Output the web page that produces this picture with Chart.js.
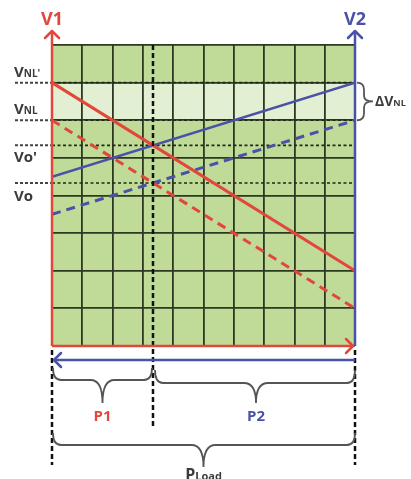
<!DOCTYPE html>
<html>
<head>
<meta charset="utf-8">
<script src="https://cdn.jsdelivr.net/npm/chart.js@4.4.1/dist/chart.umd.min.js"></script>
<style>
  html, body { margin: 0; padding: 0; background: #fff; }
  #wrap { width: 411px; height: 479px; position: relative; }
</style>
</head>
<body>
<div id="wrap"><canvas id="chart"></canvas></div>
<script>
// load share axis (0 = all on V1 side, 10 = full load)
const loadX = [0, 10];
// terminal voltages at the two ends of the load axis
const v1High = [7, 2];     // V1, raised no-load voltage VNL'
const v1Low = [6, 1];      // V1, nominal VNL
const v2High = [4.5, 7];   // V2, raised VNL'
const v2Low = [3.5, 6];    // V2, nominal VNL
// marked voltage levels
const levelNames = ["NL'", 'NL', "o'", 'o'];
const levelValues = [7, 6, 5.333, 4.333];
// load split point
const splitX = 3.333;

const RED = '#e2473b';
const BLUE = '#4a52a8';
const INK = '#3b3b3b';

const pts = ys => loadX.map((x, i) => ({ x: x, y: ys[i] }));

function arrowHead(ctx, x, y, dir, color) {
  ctx.save();
  ctx.strokeStyle = color;
  ctx.lineWidth = 2.5;
  ctx.lineCap = 'round';
  ctx.lineJoin = 'round';
  ctx.beginPath();
  const s = 7;
  if (dir === 'up') { ctx.moveTo(x - s, y + s); ctx.lineTo(x, y); ctx.lineTo(x + s, y + s); }
  if (dir === 'right') { ctx.moveTo(x - s, y - s); ctx.lineTo(x, y); ctx.lineTo(x - s, y + s); }
  if (dir === 'left') { ctx.moveTo(x + s, y - s); ctx.lineTo(x, y); ctx.lineTo(x + s, y + s); }
  ctx.stroke();
  ctx.restore();
}

function braceDown(ctx, x1, x2, yTop, yFlat, yTip, xMid) {
  const r = Math.min(yFlat - yTop, 8);
  ctx.beginPath();
  ctx.moveTo(x1, yTop);
  ctx.quadraticCurveTo(x1, yFlat, x1 + r, yFlat);
  ctx.lineTo(xMid - 12, yFlat);
  ctx.quadraticCurveTo(xMid, yFlat, xMid, yTip);
  ctx.quadraticCurveTo(xMid, yFlat, xMid + 12, yFlat);
  ctx.lineTo(x2 - r, yFlat);
  ctx.quadraticCurveTo(x2, yFlat, x2, yTop);
  ctx.stroke();
}

function subLabel(ctx, x, y, main, sub, color, bigSize, smallSize) {
  ctx.fillStyle = color;
  ctx.textBaseline = 'alphabetic';
  ctx.textAlign = 'left';
  ctx.font = 'bold ' + bigSize + 'px "Open Sans"';
  ctx.fillText(main, x, y);
  const w = ctx.measureText(main).width;
  ctx.font = 'bold ' + smallSize + 'px "Open Sans"';
  ctx.fillText(sub, x + w, y);
}

const decor = {
  id: 'decor',
  beforeDraw(chart) {
    const { ctx, chartArea: a, scales: { y } } = chart;
    ctx.save();
    ctx.fillStyle = '#c0da98';
    ctx.fillRect(a.left, a.top, a.right - a.left, a.bottom - a.top);
    const yA = y.getPixelForValue(levelValues[0]);
    const yB = y.getPixelForValue(levelValues[1]);
    ctx.fillStyle = '#e3efd2';
    ctx.fillRect(a.left, yA, a.right - a.left, yB - yA);
    ctx.restore();
  },
  beforeDatasetsDraw(chart) {
    const { ctx, chartArea: a, scales: { x, y } } = chart;
    ctx.save();
    ctx.strokeStyle = '#1e2a16';
    ctx.lineWidth = 1.6;
    ctx.setLineDash([3, 2.5]);
    levelValues.forEach(v => {
      const py = y.getPixelForValue(v);
      ctx.beginPath();
      ctx.moveTo(a.left, py);
      ctx.lineTo(a.right, py);
      ctx.stroke();
    });
    ctx.restore();
  },
  afterDatasetsDraw(chart) {
    const { ctx, chartArea: a, scales: { x, y } } = chart;
    const xs = x.getPixelForValue(splitX);
    ctx.save();

    // dashed guides outside the plot on the left
    ctx.strokeStyle = '#444';
    ctx.lineWidth = 2;
    ctx.setLineDash([3, 2]);
    levelValues.forEach(v => {
      const py = y.getPixelForValue(v);
      ctx.beginPath();
      ctx.moveTo(15, py);
      ctx.lineTo(a.left, py);
      ctx.stroke();
    });

    // vertical dashed lines
    ctx.strokeStyle = '#111';
    ctx.lineWidth = 2.5;
    ctx.setLineDash([5, 3]);
    ctx.beginPath();
    ctx.moveTo(xs, a.top); ctx.lineTo(xs, 426);
    ctx.moveTo(a.left, a.bottom + 4); ctx.lineTo(a.left, 465);
    ctx.moveTo(a.right, a.bottom + 4); ctx.lineTo(a.right, 465);
    ctx.stroke();
    ctx.setLineDash([]);

    // V1 axis (left) and load axis (bottom), red
    ctx.strokeStyle = RED;
    ctx.lineWidth = 2.5;
    ctx.beginPath();
    ctx.moveTo(a.left, a.bottom); ctx.lineTo(a.left, 31);
    ctx.moveTo(a.left, a.bottom); ctx.lineTo(a.right - 2, a.bottom);
    ctx.stroke();
    arrowHead(ctx, a.left, 31, 'up', RED);
    arrowHead(ctx, a.right - 2, a.bottom, 'right', RED);

    // V2 axis (right) and reverse load axis, blue
    ctx.strokeStyle = BLUE;
    ctx.lineWidth = 2.5;
    ctx.beginPath();
    ctx.moveTo(a.right, a.bottom); ctx.lineTo(a.right, 31);
    ctx.moveTo(a.right, 360); ctx.lineTo(a.left + 2, 360);
    ctx.stroke();
    arrowHead(ctx, a.right, 31, 'up', BLUE);
    arrowHead(ctx, a.left + 2, 360, 'left', BLUE);

    // axis names
    ctx.font = 'bold 18px "Open Sans"';
    ctx.textAlign = 'center';
    ctx.textBaseline = 'alphabetic';
    ctx.fillStyle = RED;
    ctx.fillText('V1', a.left, 25);
    ctx.fillStyle = BLUE;
    ctx.fillText('V2', a.right, 25);

    // level labels
    const lblOffsets = [-6, -6, 17, 18];
    const subSizes = [10, 10, 15, 15];
    levelValues.forEach((v, i) => {
      const py = y.getPixelForValue(v) + lblOffsets[i];
      subLabel(ctx, 14, py, 'V', levelNames[i], INK, 15, subSizes[i]);
    });

    // braces
    ctx.strokeStyle = '#555';
    ctx.lineWidth = 1.8;
    braceDown(ctx, a.left + 1, xs - 1, 368, 380, 403, (a.left + xs) / 2);
    braceDown(ctx, xs + 2, a.right, 370, 383, 403, (xs + a.right) / 2 + 2);
    braceDown(ctx, a.left + 1, a.right, 433, 445, 467, (a.left + a.right) / 2);

    // ΔVNL brace on the right
    const yA = y.getPixelForValue(levelValues[0]);
    const yB = y.getPixelForValue(levelValues[1]);
    const ym = (yA + yB) / 2;
    ctx.beginPath();
    ctx.moveTo(357, yA);
    ctx.quadraticCurveTo(364, yA, 364, yA + 7);
    ctx.lineTo(364, ym - 6);
    ctx.quadraticCurveTo(364, ym, 373, ym);
    ctx.quadraticCurveTo(364, ym, 364, ym + 6);
    ctx.lineTo(364, yB - 7);
    ctx.quadraticCurveTo(364, yB, 357, yB);
    ctx.stroke();
    subLabel(ctx, 375, ym + 5, 'ΔV', 'NL', INK, 14, 9);

    // load labels
    ctx.font = 'bold 15px "Open Sans"';
    ctx.textAlign = 'center';
    ctx.fillStyle = RED;
    ctx.fillText('P1', (a.left + xs) / 2, 421);
    ctx.fillStyle = BLUE;
    ctx.fillText('P2', (xs + a.right) / 2 + 2, 421);
    ctx.font = 'bold 16px "Open Sans"';
    const pw = ctx.measureText('P').width;
    ctx.font = 'bold 11px "Open Sans"';
    const lw = ctx.measureText('Load').width;
    subLabel(ctx, (a.left + a.right) / 2 - (pw + lw) / 2, 480, 'P', 'Load', INK, 16, 11);

    ctx.restore();
  }
};

new Chart(document.getElementById('chart'), {
  type: 'scatter',
  data: {
    datasets: [
      { label: "V1 (VNL')", data: pts(v1High), borderColor: RED, borderWidth: 3 },
      { label: 'V1 (VNL)', data: pts(v1Low), borderColor: RED, borderWidth: 3, borderDash: [9, 6] },
      { label: "V2 (VNL')", data: pts(v2High), borderColor: BLUE, borderWidth: 2.5 },
      { label: 'V2 (VNL)', data: pts(v2Low), borderColor: BLUE, borderWidth: 3, borderDash: [9, 6] }
    ].map(d => Object.assign(d, { showLine: true, pointRadius: 0, fill: false }))
  },
  options: {
    responsive: true,
    maintainAspectRatio: false,
    animation: false,
    layout: { padding: { left: 52, right: 56, top: 45, bottom: 133 } },
    plugins: { legend: { display: false }, tooltip: { enabled: false } },
    scales: {
      x: {
        type: 'linear', min: 0, max: 10,
        ticks: { display: false, stepSize: 1 },
        border: { display: false },
        grid: { color: '#2c3822', lineWidth: 1.8, drawTicks: false }
      },
      y: {
        type: 'linear', min: 0, max: 8,
        ticks: { display: false, stepSize: 1 },
        border: { display: false },
        grid: { color: '#2c3822', lineWidth: 1.8, drawTicks: false }
      }
    }
  },
  plugins: [decor]
});
</script>
</body>
</html>
